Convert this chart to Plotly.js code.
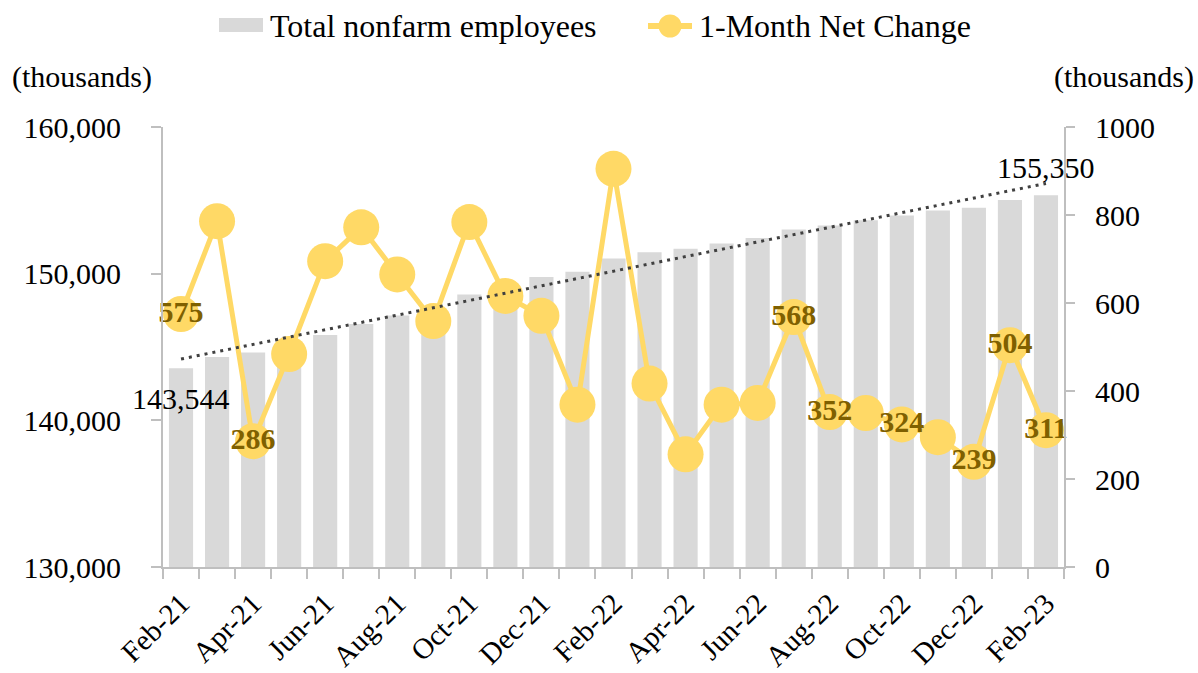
<!DOCTYPE html>
<html>
<head>
<meta charset="utf-8">
<script src="https://cdn.plot.ly/plotly-3.0.1.min.js"></script>
<style>html,body{margin:0;padding:0;background:#fff;}#chart{width:1198px;height:673px;}</style>
</head>
<body>
<div id="chart"></div>
<script>
const months = ['Feb-21','Mar-21','Apr-21','May-21','Jun-21','Jul-21','Aug-21','Sep-21','Oct-21','Nov-21','Dec-21','Jan-22',
                'Feb-22','Mar-22','Apr-22','May-22','Jun-22','Jul-22','Aug-22','Sep-22','Oct-22','Nov-22','Dec-22','Jan-23','Feb-23'];
const totalEmployees = [143544,144320,144630,145100,145810,146575,147150,147650,148574,149150,149770,150135,
                        151039,151465,151700,152060,152440,153007,153280,153640,153960,154300,154500,155025,155350];
const netChange = [575,786,286,484,695,772,665,559,784,616,571,369,905,417,256,369,373,568,352,350,324,295,239,504,311];
const netChangeLabels = ['575','','286','','','','','','','','','','','','','','','568','352','','324','','239','504','311'];
const seriesNames = ['Total nonfarm employees', '1-Month Net Change'];
const tickMonths = months.filter((m,i)=>i%2===0);

const FONT = 'Liberation Serif, Times New Roman, serif';
const BAR_COLOR = '#D9D9D9', LINE_COLOR = '#FFD966', LABEL_COLOR = '#7F6000', AXIS_COLOR = '#BFBFBF';
const idx = months.map((m,i)=>i);
const tickIdx = idx.filter(i=>i%2===0);

// linear trendline (least squares) of total employees
const n = totalEmployees.length;
const mx = idx.reduce((a,b)=>a+b,0)/n;
const my = totalEmployees.reduce((a,b)=>a+b,0)/n;
let sxy=0, sxx=0;
idx.forEach(i=>{sxy+=(i-mx)*(totalEmployees[i]-my); sxx+=(i-mx)*(i-mx);});
const slope = sxy/sxx, icpt = my - slope*mx;
const trendX = [idx[0], idx[n-1]];
const trendY = trendX.map(x=>icpt+slope*x);

// plot-area geometry (pixels) used for the hand-drawn legend
const M = {l:163, r:134, t:127, b:106};
const W = 1198, H = 673, PW = W-M.l-M.r, PH = H-M.t-M.b;
const px = x => (x-M.l)/PW;
const py = y => (H-M.b-y)/PH;

const traces = [
  {type:'bar', name:seriesNames[0], x:idx, y:totalEmployees, width:0.67,
   marker:{color:BAR_COLOR}, yaxis:'y', hoverinfo:'y'},
  {type:'scatter', name:seriesNames[1], x:idx, y:netChange, yaxis:'y2',
   mode:'lines+markers+text', line:{color:LINE_COLOR, width:5}, marker:{color:LINE_COLOR, size:36},
   text:netChangeLabels, textposition:'middle center', cliponaxis:false,
   textfont:{family:FONT, size:30, color:LABEL_COLOR, weight:'bold'}},
  {type:'scatter', x:trendX, y:trendY, yaxis:'y3', mode:'lines', showlegend:false, hoverinfo:'skip',
   line:{color:'#404040', width:3, dash:'3px,5px'}}
];

const legendY = 26;
const shapes = [
  {type:'rect', xref:'paper', yref:'paper', x0:px(219), x1:px(263), y0:py(32), y1:py(18),
   fillcolor:BAR_COLOR, line:{width:0}},
  {type:'line', xref:'paper', yref:'paper', x0:px(648), x1:px(692), y0:py(legendY), y1:py(legendY),
   line:{color:LINE_COLOR, width:6}},
  {type:'circle', xref:'paper', yref:'paper', x0:px(658.5), x1:px(681.5), y0:py(legendY+11.5), y1:py(legendY-11.5),
   fillcolor:LINE_COLOR, line:{width:0}}
];

const layout = {
  width:W, height:H,
  margin:M,
  paper_bgcolor:'#fff', plot_bgcolor:'#fff',
  font:{family:FONT, size:30, color:'#000'},
  showlegend:false,
  xaxis:{range:[-0.5,24.5], tickmode:'array', tickvals:tickIdx, ticktext:tickMonths, tickangle:-45,
         showline:true, linecolor:AXIS_COLOR, linewidth:2, ticks:'', showgrid:false, zeroline:false,
         tickfont:{family:FONT, size:29}, ticklabelstandoff:6,
         minor:{ticks:'outside', ticklen:10, tickwidth:2, tickcolor:AXIS_COLOR, tick0:-0.5, dtick:1, showgrid:false}},
  yaxis:{range:[130000,160000], dtick:10000, tickformat:',', ticks:'outside', ticklen:10, tickwidth:2,
         tickcolor:AXIS_COLOR, showline:true, linecolor:AXIS_COLOR, linewidth:2, showgrid:false, zeroline:false,
         ticklabelstandoff:24, tickfont:{family:FONT, size:30}},
  yaxis2:{range:[0,1000], dtick:200, overlaying:'y', side:'right', ticks:'outside', ticklen:9, tickwidth:2,
          tickcolor:AXIS_COLOR, showline:true, linecolor:AXIS_COLOR, linewidth:2, showgrid:false, zeroline:false,
          ticklabelstandoff:14, tickfont:{family:FONT, size:30}},
  yaxis3:{range:[130000,160000], overlaying:'y', visible:false},
  shapes:shapes,
  annotations:[
    {xref:'paper', yref:'paper', x:px(268), y:py(legendY), xanchor:'left', yanchor:'middle',
     text:seriesNames[0], showarrow:false, font:{family:FONT, size:32}},
    {xref:'paper', yref:'paper', x:px(697), y:py(legendY), xanchor:'left', yanchor:'middle',
     text:seriesNames[1], showarrow:false, font:{family:FONT, size:32}},
    {xref:'paper', yref:'paper', x:0, y:1, xanchor:'right', yanchor:'middle', xshift:-9, yshift:50,
     text:'(thousands)', showarrow:false, font:{family:FONT, size:30}},
    {xref:'paper', yref:'paper', x:1, y:1, xanchor:'left', yanchor:'middle', xshift:-12, yshift:50,
     text:'(thousands)', showarrow:false, font:{family:FONT, size:30}},
    {x:idx[0], y:totalEmployees[0], text:totalEmployees[0].toLocaleString('en-US'), showarrow:false,
     yshift:-30, font:{family:FONT, size:30}},
    {x:idx[n-1], y:totalEmployees[n-1], text:totalEmployees[n-1].toLocaleString('en-US'), showarrow:false,
     yshift:28, font:{family:FONT, size:30}}
  ]
};

Plotly.newPlot('chart', traces, layout, {displayModeBar:false, staticPlot:true});
</script>
</body>
</html>
